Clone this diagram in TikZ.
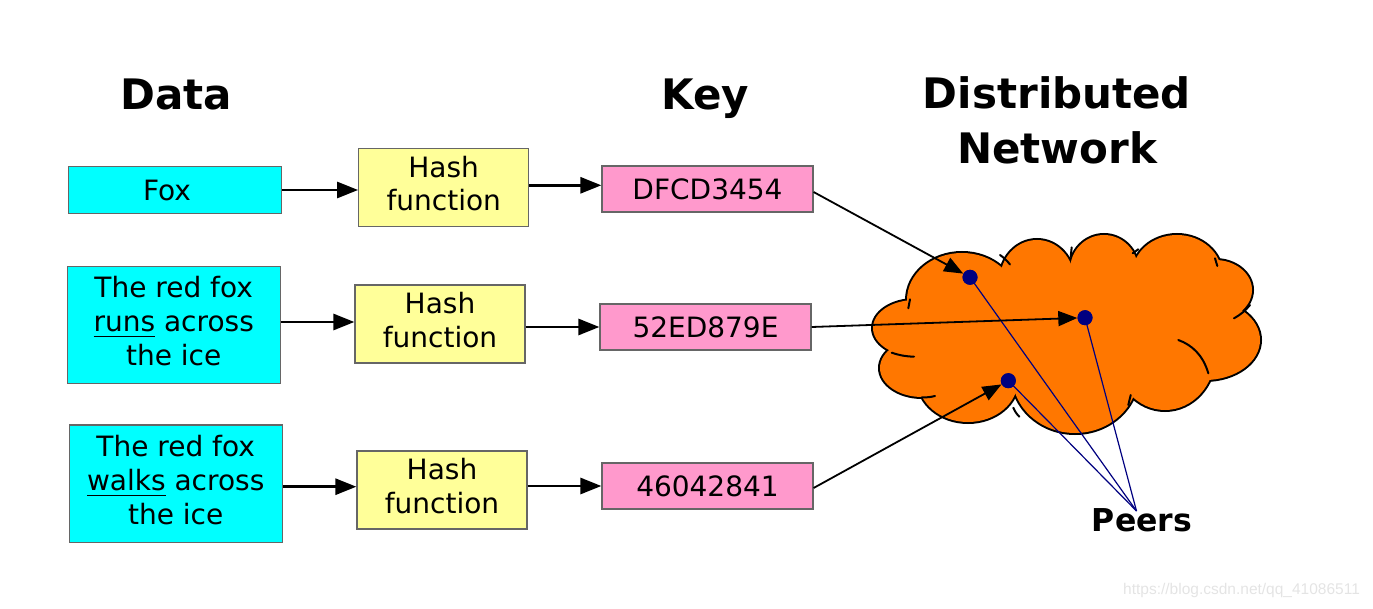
\documentclass[tikz,border=0pt]{standalone}
\usepackage{fontspec}
\setmainfont{DejaVu Sans}
\newfontfamily\wmfont{Liberation Sans}
\usetikzlibrary{arrows.meta}
\definecolor{datacyan}{HTML}{00FFFF}
\definecolor{hashyellow}{HTML}{FFFF99}
\definecolor{keypink}{HTML}{FF99CC}
\definecolor{cloudorange}{HTML}{FF7700}
\definecolor{peernavy}{HTML}{000080}
\definecolor{boxgray}{HTML}{666666}
\definecolor{wmgray}{HTML}{E4E4E4}
\newcommand{\myul}[1]{\setbox0\hbox{#1}\rlap{\rule[-5.5pt]{\wd0}{1.3pt}}\box0\relax}
\newcommand{\padbelow}[1]{\rule[-#1]{0pt}{#1}}
\begin{document}
\begin{tikzpicture}[x=1pt,y=-1pt,
  box/.style={draw=boxgray, line width=1.2pt, inner sep=0pt, align=center,
              font=\fontsize{28}{33.8}\selectfont},
  databox/.style={box, fill=datacyan, minimum width=213pt},
  hashbox/.style={box, fill=hashyellow, minimum width=170pt, minimum height=78pt},
  keybox/.style={box, fill=keypink, minimum width=211pt, minimum height=46pt},
  title/.style={font=\bfseries\fontsize{42}{55}\selectfont, align=center, inner sep=0pt},
  flow/.style={line width=2.8pt, -{Triangle[length=21pt,width=16pt]}},
  tonet/.style={line width=1.8pt, -{Triangle[length=19pt,width=15pt]}},
  peer/.style={circle, fill=peernavy, minimum size=15pt, inner sep=0pt},
  peerline/.style={draw=peernavy, line width=1.2pt},
  cloudline/.style={line width=2pt, line cap=round}
]
\useasboundingbox (0,0) rectangle (1373,609);

% titles
\node[title, anchor=base] (tdata) at (176.5,110) {Data};
\node[title, anchor=base] (tkey) at (705,110) {Key};
\node[title] (tnet) at (1057,120.5) {Distributed\\Network};

% data boxes
\node[databox, minimum height=46.6pt] (fox) at (175,190) {Fox\rule{16pt}{0pt}};
\node[databox, minimum height=116.6pt] (d2) at (173.7,325) {The red fox\\\myul{runs} across\\the ice\padbelow{8pt}};
\node[databox, minimum height=117.3pt] (d3) at (175.7,483.7) {The red fox\\\myul{walks} across\\the ice\padbelow{8pt}};

% hash boxes
\node[hashbox] (h1) at (443.7,187.8) {Hash\\function\padbelow{9pt}};
\node[hashbox] (h2) at (440,324) {Hash\\function\padbelow{9pt}};
\node[hashbox] (h3) at (442,490) {Hash\\function\padbelow{9pt}};

% key boxes
\node[keybox] (k1) at (707.5,189) {DFCD3454};
\node[keybox] (k2) at (705.5,327) {52ED879E};
\node[keybox] (k3) at (707.5,486) {46042841};

% arrows data -> hash -> key
\draw[flow] (fox.east) -- (fox.east -| h1.west);
\draw[flow] ([yshift=2.5pt]h1.east) -- ([yshift=2.5pt]h1.east -| k1.west);
\draw[flow] ([yshift=3pt]d2.east) -- ([yshift=3pt]d2.east -| h2.west);
\draw[flow] (h2.east |- k2.west) -- (k2.west);
\draw[flow] ([yshift=-3pt]d3.east) -- ([yshift=-3pt]d3.east -| h3.west);
\draw[flow] (h3.east |- k3.west) -- (k3.west);

% cloud
\foreach \cx/\cy/\rx/\ry in {915/328/42/28, 922/368/42/29, 968/380/50/42, 1075/375/63/58,
  1165/355/50/55, 1205/340/55/40, 1215/290/37/30, 1177/275/45/40, 1104/270/34/35,
  1037/280/37/40, 962/300/55/47, 1070/330/150/65}
  \draw[line width=4pt] (\cx,\cy) ellipse [x radius=\rx pt, y radius=\ry pt];
\foreach \cx/\cy/\rx/\ry in {915/328/42/28, 922/368/42/29, 968/380/50/42, 1075/375/63/58,
  1165/355/50/55, 1205/340/55/40, 1215/290/37/30, 1177/275/45/40, 1104/270/34/35,
  1037/280/37/40, 962/300/55/47, 1070/330/150/65}
  \fill[cloudorange] (\cx,\cy) ellipse [x radius=\rx pt, y radius=\ry pt];
% inner hooks of the cloud
\draw[cloudline] (1000,255) to[bend left=8] (1010,264.5);
\draw[cloudline] (1071.7,247.3) -- (1070.7,256.5);
\draw[cloudline] (1138.3,249.3) -- (1132.7,253.3);
\draw[cloudline] (1215,258.3) -- (1217.3,266);
\draw[cloudline] (1250,305) to[bend left=10] (1234,318.3);
\draw[cloudline] (1178.3,340) .. controls (1192,345) and (1203,355) .. (1208.3,373.3);
\draw[cloudline] (1130.7,395) -- (1128.3,405);
\draw[cloudline] (1013.3,407.7) to[bend right=10] (1019.3,416.7);
\draw[cloudline] (935,396) to[bend left=8] (921.7,397.3);
\draw[cloudline] (914,356.7) to[bend left=8] (891.7,352.7);
\draw[cloudline] (908.3,308.3) -- (910,299.3);

% peers
\node[peer] (p1) at (970,277.3) {};
\node[peer] (p2) at (1085,317.7) {};
\node[peer] (p3) at (1008.3,380.7) {};
\coordinate (conv) at (1136.5,511);
\node[font=\bfseries\fontsize{31.5}{36}\selectfont, inner sep=0pt, anchor=base] (peers) at (1142,531) {Peers};

\draw[peerline] (p1.center) -- (conv);
\draw[peerline] (p2.center) -- (conv);
\draw[peerline] (p3.center) -- (conv);
\node[peer] at (p1) {};
\node[peer] at (p2) {};
\node[peer] at (p3) {};

% keys -> network
\draw[tonet] ([yshift=-3pt]k1.east) -- (p1);
\draw[tonet] (k2.east) -- (p2);
\draw[tonet] ([yshift=-2pt]k3.east) -- (p3);

% watermark
\node[font=\wmfont\fontsize{15.5}{18}\selectfont, text=wmgray, inner sep=0pt, anchor=base west] (wm) at (1123,594) {https://blog.csdn.net/qq\_41086511};
\end{tikzpicture}
\end{document}
